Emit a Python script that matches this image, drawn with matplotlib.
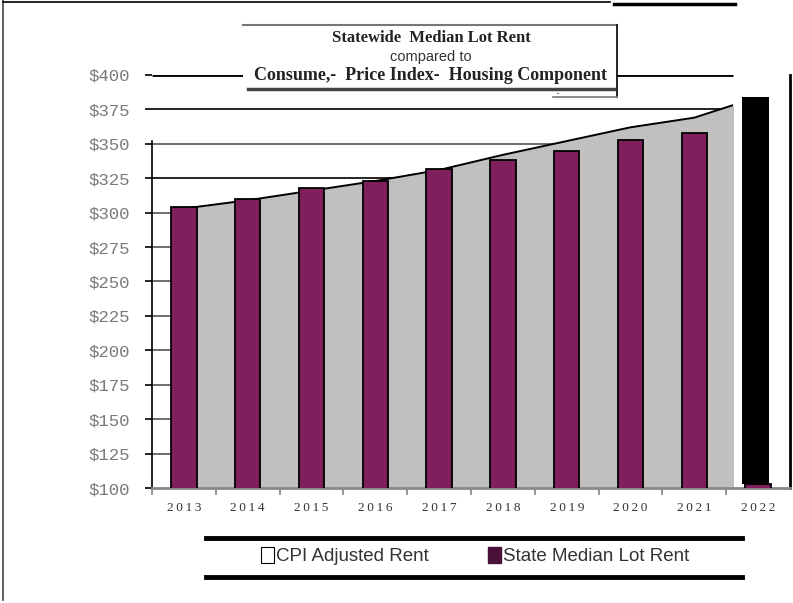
import matplotlib.pyplot as plt
import matplotlib.patches as mpatches
from matplotlib.lines import Line2D
import numpy as np

years = ['2013', '2014', '2015', '2016', '2017', '2018', '2019', '2020', '2021', '2022']
cpi_rent = [303, 309, 316, 323, 331, 342, 352, 362, 369, 384]
lot_rent = [304, 310, 318, 323, 332, 338, 345, 353, 358, 103]
yticks = [100, 125, 150, 175, 200, 225, 250, 275, 300, 325, 350, 375, 400]

W, H = 793, 603
def fx(px):
    return px / W
def fy(py):
    return 1 - py / H

purple = '#7f1f5c'
fig = plt.figure(figsize=(W / 100, H / 100), dpi=100)
ax = fig.add_axes([fx(152), fy(488), fx(790 - 152), (488 - 75) / H])

x = np.arange(len(years))
ax.set_xlim(-0.5, 9.5)
ax.set_ylim(100, 400)

# gridlines only span the plot area (which stops short of 2022)
for v in yticks[1:]:
    lw = 2 if v == 400 else 1.2
    col = 'black' if v in (400, 375, 325) else '#555555'
    ax.hlines(v, -0.5, 8.6, color=col, lw=lw, zorder=1)

clip = mpatches.Rectangle((-0.5, 0), 9.1, 1000, transform=ax.transData)
area = ax.fill_between(x, 100, cpi_rent, color='#c0c0c0', lw=0, zorder=2)
area.set_clip_path(clip)
ln, = ax.plot(x, cpi_rent, color='black', lw=1.4, zorder=3)
ln.set_clip_path(clip)

ax.bar(x, lot_rent, width=0.4, color=purple, edgecolor='black', lw=1.3, zorder=4)
# odd black block over 2022
ax.bar(x[-1] - 0.04, cpi_rent[-1] - lot_rent[-1], bottom=lot_rent[-1], width=0.42,
       color='black', lw=0, zorder=4)

ax.spines['top'].set_visible(False)
ax.spines['left'].set_bounds(100, 352)
ax.spines['left'].set_linewidth(1.2)
ax.spines['right'].set_linewidth(2)
ax.spines['bottom'].set_color('#888888')
ax.spines['bottom'].set_linewidth(2)

ax.set_yticks(yticks)
ax.set_yticklabels(['$%d' % v for v in yticks], family='Liberation Mono',
                   fontsize=12.5, color='#7a7a7a')
ax.tick_params(axis='y', length=5, width=1.2, color='black', pad=11)

ax.set_xticks(x)
ax.set_xticklabels(['\u2009'.join(y) for y in years], family='Liberation Serif',
                   fontsize=9.5, color='#333333')
ax.set_xticks(np.arange(-0.5, 9, 1), minor=True)
ax.tick_params(axis='x', which='major', length=0, pad=10)
ax.tick_params(axis='x', which='minor', length=5, width=1.2, color='#888888')

# title box
fig.add_artist(mpatches.Rectangle((fx(243), fy(97)), fx(617 - 243), (97 - 25) / H,
                                  transform=fig.transFigure, facecolor='white',
                                  edgecolor='none', zorder=5))
fig.add_artist(Line2D([fx(243), fx(617)], [fy(25), fy(25)], color='#777777', lw=1.5, zorder=6))
fig.add_artist(Line2D([fx(617), fx(617)], [fy(25), fy(97)], color='black', lw=1.2, zorder=6))
fig.add_artist(Line2D([fx(553), fx(617)], [fy(97), fy(97)], color='#777777', lw=1.2, zorder=6))
fig.add_artist(Line2D([fx(248), fx(614)], [fy(89), fy(89)], color='#444444', lw=2.5, zorder=6))
fig.text(fx(431), fy(38), 'Statewide  Median Lot Rent', family='Liberation Serif',
         weight='bold', fontsize=12, ha='center', va='center', color='#222222', zorder=7)
fig.text(fx(431), fy(57), 'compared to', family='Liberation Sans', fontsize=10.5,
         ha='center', va='center', color='#333333', zorder=7)
fig.text(fx(431), fy(76), 'Consume,-  Price Index-  Housing Component',
         family='Liberation Serif', weight='bold', fontsize=13, ha='center',
         va='center', color='#222222', zorder=7)
fig.text(fx(558), fy(90), '.', fontsize=9, ha='center', va='center', zorder=7)

# page borders
fig.add_artist(Line2D([fx(3), fx(3)], [fy(0), fy(600)], color='#444444', lw=1.2))
fig.add_artist(Line2D([fx(3), fx(610)], [fy(2), fy(2)], color='black', lw=1.2))
fig.add_artist(Line2D([fx(614), fx(735)], [fy(4), fy(4)], color='black', lw=2.5))

# legend between two heavy rules
fig.add_artist(Line2D([fx(206), fx(742)], [fy(538), fy(538)], color='black', lw=3.5))
fig.add_artist(Line2D([fx(206), fx(742)], [fy(577), fy(577)], color='black', lw=3.5))
handles = [mpatches.Patch(facecolor='white', edgecolor='black', lw=0.8),
           mpatches.Patch(facecolor='#4a1038', edgecolor='#4a1038')]
fig.legend(handles, ['CPI Adjusted Rent', 'State Median Lot Rent'], ncol=2,
           loc='center', bbox_to_anchor=(fx(475), fy(556)), frameon=False,
           handlelength=0.7, handleheight=1.0, handletextpad=0.1, columnspacing=3.2,
           prop={'family': 'Liberation Sans', 'size': 13.5}, labelcolor='#333333')

plt.savefig('out.png', dpi=100)
